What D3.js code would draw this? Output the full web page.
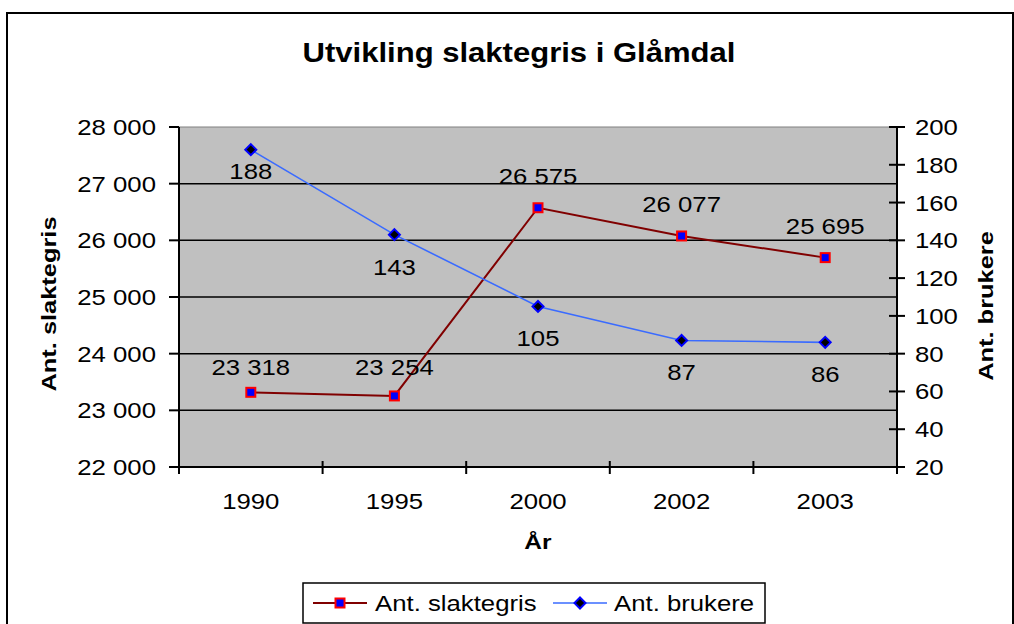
<!DOCTYPE html>
<html>
<head>
<meta charset="utf-8">
<script src="https://cdn.jsdelivr.net/npm/d3@7/dist/d3.min.js"></script>
<style>
  body { margin: 0; background: #fff; }
  text { font-family: Arial, "Liberation Sans", sans-serif; fill: #000; }
</style>
</head>
<body>
<svg id="chart" width="1014" height="624"></svg>
<script>
var years = ["1990", "1995", "2000", "2002", "2003"];
var slaktegris = [23318, 23254, 26575, 26077, 25695];
var brukere = [188, 143, 105, 87, 86];
var leftTicks = [22000, 23000, 24000, 25000, 26000, 27000, 28000];
var rightTicks = [20, 40, 60, 80, 100, 120, 140, 160, 180, 200];

var svg = d3.select("#chart"),
    plot = {left: 179, right: 897, top: 127, bottom: 467},
    sx = 1.17;

var nb = d3.formatLocale({decimal: ",", thousands: " ", grouping: [3], currency: ["", ""]});
var fmt = nb.format(",");

var x = d3.scaleBand().domain(years).range([plot.left, plot.right]);
var yL = d3.scaleLinear().domain([22000, 28000]).range([plot.bottom, plot.top]);
var yR = d3.scaleLinear().domain([20, 200]).range([plot.bottom, plot.top]);

// stretched text, like the original excel export
function label(px, py, str, anchor, size, bold, rot, stretch) {
  var t = svg.append("text")
      .attr("transform", "translate(" + px + "," + py + ")" + (rot ? " rotate(" + rot + ")" : "") + " scale(" + (stretch || sx) + ",1)")
      .attr("text-anchor", anchor)
      .style("font-size", size + "px")
      .text(str);
  if (bold) t.style("font-weight", "bold");
  return t;
}

// outer frame
svg.append("rect")
    .attr("x", 7).attr("y", 13)
    .attr("width", 1006).attr("height", 630)
    .attr("fill", "#fff")
    .attr("stroke", "#000")
    .attr("stroke-width", 2);

// plot area
svg.append("rect")
    .attr("x", plot.left).attr("y", plot.top)
    .attr("width", plot.right - plot.left).attr("height", plot.bottom - plot.top)
    .attr("fill", "#c0c0c0")
    .attr("stroke", "#808080")
    .attr("stroke-width", 1);

// gridlines
svg.selectAll("line.grid")
    .data(leftTicks.slice(1, -1))
  .enter().append("line")
    .attr("class", "grid")
    .attr("x1", plot.left).attr("x2", plot.right)
    .attr("y1", function(d) { return yL(d); })
    .attr("y2", function(d) { return yL(d); })
    .attr("stroke", "#000")
    .attr("stroke-width", 1.5);

// left axis
svg.append("line")
    .attr("x1", plot.left).attr("x2", plot.left)
    .attr("y1", plot.top).attr("y2", plot.bottom + 7)
    .attr("stroke", "#000").attr("stroke-width", 2);
leftTicks.forEach(function(d) {
  svg.append("line")
      .attr("x1", plot.left - 10).attr("x2", plot.left)
      .attr("y1", yL(d)).attr("y2", yL(d))
      .attr("stroke", "#000").attr("stroke-width", 2);
  label(156, yL(d) + 8, fmt(d), "end", 22);
});

// right axis
svg.append("line")
    .attr("x1", plot.right).attr("x2", plot.right)
    .attr("y1", plot.top).attr("y2", plot.bottom + 7)
    .attr("stroke", "#000").attr("stroke-width", 2);
rightTicks.forEach(function(d) {
  svg.append("line")
      .attr("x1", plot.right - 8).attr("x2", plot.right + 8)
      .attr("y1", yR(d)).attr("y2", yR(d))
      .attr("stroke", "#000").attr("stroke-width", 2);
  label(915, yR(d) + 8, d, "start", 22);
});

// x axis
svg.append("line")
    .attr("x1", plot.left).attr("x2", plot.right)
    .attr("y1", plot.bottom).attr("y2", plot.bottom)
    .attr("stroke", "#000").attr("stroke-width", 2);
years.forEach(function(d, i) {
  if (i > 0) {
    svg.append("line")
        .attr("x1", x(d)).attr("x2", x(d))
        .attr("y1", plot.bottom - 6).attr("y2", plot.bottom + 7)
        .attr("stroke", "#000").attr("stroke-width", 2);
  }
  label(x(d) + x.bandwidth() / 2, 509, d, "middle", 22);
});

// titles
label(519, 62, "Utvikling slaktegris i Glåmdal", "middle", 27, true, 0, 1.15);
label(538, 549, "År", "middle", 21, true);
label(56, 304, "Ant. slaktegris", "middle", 20, true, -90, 1.27);
label(993, 306, "Ant. brukere", "middle", 20, true, -90, 1.27);

var cx = function(d, i) { return x(years[i]) + x.bandwidth() / 2; };

// series 1: slaktegris
svg.append("path")
    .datum(slaktegris)
    .attr("fill", "none")
    .attr("stroke", "#800000")
    .attr("stroke-width", 2)
    .attr("d", d3.line().x(cx).y(function(d) { return yL(d); }));

// series 2: brukere
svg.append("path")
    .datum(brukere)
    .attr("fill", "none")
    .attr("stroke", "#3a6bff")
    .attr("stroke-width", 1.6)
    .attr("d", d3.line().x(cx).y(function(d) { return yR(d); }));

slaktegris.forEach(function(d, i) {
  svg.append("rect")
      .attr("x", cx(d, i) - 4.5).attr("y", yL(d) - 4.5)
      .attr("width", 9).attr("height", 9)
      .attr("fill", "#0000ff")
      .attr("stroke", "#ff0000")
      .attr("stroke-width", 2);
  var ly = i < 2 ? yL(slaktegris[0]) - 17 : yL(d) - 24;
  label(cx(d, i), ly, fmt(d), "middle", 22);
});

var diamond = "M0,-5.5L5.5,0L0,5.5L-5.5,0Z";
brukere.forEach(function(d, i) {
  svg.append("path")
      .attr("d", diamond)
      .attr("transform", "translate(" + cx(d, i) + "," + yR(d) + ")")
      .attr("fill", "#000")
      .attr("stroke", "#0000ff")
      .attr("stroke-width", 2);
  var ly = i === 0 ? yR(d) + 29 : yR(d) + 40;
  label(cx(d, i), ly, d, "middle", 22);
});

// legend
var lg = svg.append("g");
lg.append("rect")
    .attr("x", 303).attr("y", 583)
    .attr("width", 462).attr("height", 40)
    .attr("fill", "#fff")
    .attr("stroke", "#000")
    .attr("stroke-width", 1.5);
lg.append("line")
    .attr("x1", 313).attr("x2", 367).attr("y1", 603).attr("y2", 603)
    .attr("stroke", "#800000").attr("stroke-width", 2);
lg.append("rect")
    .attr("x", 335.5).attr("y", 598.5).attr("width", 9).attr("height", 9)
    .attr("fill", "#0000ff").attr("stroke", "#ff0000").attr("stroke-width", 2);
label(375, 611, "Ant. slaktegris", "start", 22);
lg.append("line")
    .attr("x1", 553).attr("x2", 607).attr("y1", 603).attr("y2", 603)
    .attr("stroke", "#3a6bff").attr("stroke-width", 1.6);
lg.append("path")
    .attr("d", diamond)
    .attr("transform", "translate(580,603)")
    .attr("fill", "#000").attr("stroke", "#0000ff").attr("stroke-width", 2);
label(614, 611, "Ant. brukere", "start", 22);
</script>
</body>
</html>
